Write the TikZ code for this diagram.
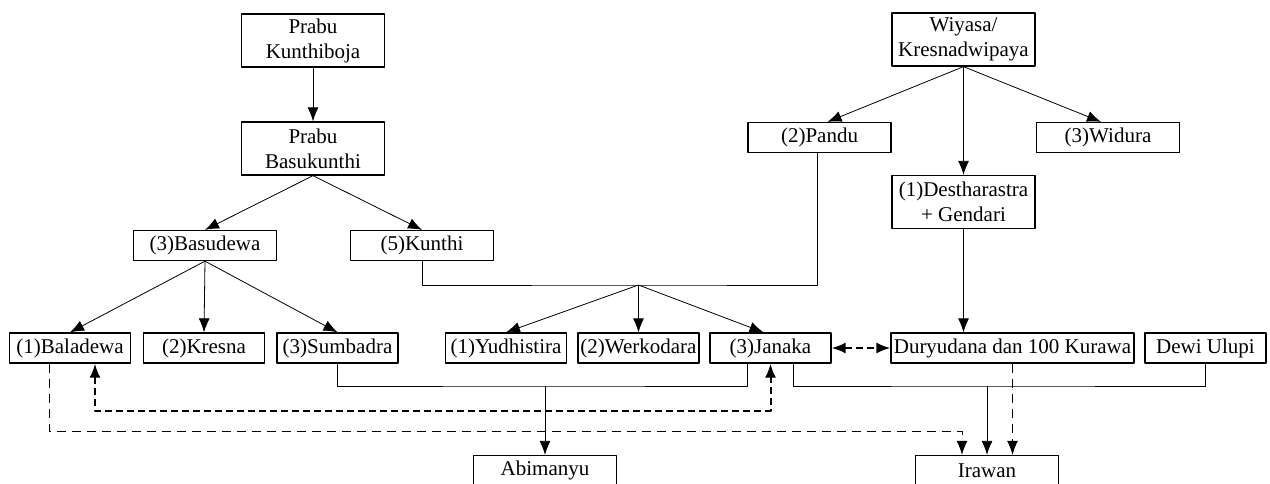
\documentclass[tikz,border=0pt]{standalone}
\usepackage{fontspec}
\setmainfont{Liberation Serif}
\usetikzlibrary{arrows.meta}
\begin{document}
\begin{tikzpicture}[x=0.5pt,y=-0.5pt,>={Latex[length=7pt,width=5.5pt]},line join=round,
	font=\fontsize{10.5}{12.5}\selectfont,
	box/.style={draw,line width=0.65pt,inner sep=1pt,align=center,minimum height=15pt,minimum width=60.5pt},
	wide/.style={box,minimum width=71.5pt},
	tall/.style={wide,minimum height=26.5pt},
	thickdash/.style={line width=1pt,dash pattern=on 3.5pt off 2pt},
	thindash/.style={line width=0.5pt,dash pattern=on 4.5pt off 3pt}]
		%	\draw[color=gray!50,dashed] (0,0) grid (1270,483);
		\useasboundingbox (0,0) rectangle (1270,483);
		\node[tall] (kunthiboja) at (313,40.5) {Prabu\\Kunthiboja};
		\node[tall] (basukunthi) at (313,148.5) {Prabu\\Basukunthi};
		\node[wide] (basudewa) at (205,245.5) {(3)Basudewa};
		\node[wide] (kunthi) at (422,245.5) {(5)Kunthi};
		\node[tall] (wiyasa) at (963.5,39.5) {Wiyasa/\\Kresnadwipaya};
		\node[wide] (pandu) at (819.5,137.5) {(2)Pandu};
		\node[wide] (widura) at (1108,137.5) {(3)Widura};
		\node[tall] (destharastra) at (963.5,202) {(1)Destharastra\\+ Gendari};
		\node[box] (baladewa) at (70,348) {(1)Baladewa};
		\node[box] (kresna) at (204,348) {(2)Kresna};
		\node[box] (sumbadra) at (337.5,348) {(3)Sumbadra};
		\node[box] (yudhistira) at (506,348) {(1)Yudhistira};
		\node[box] (werkodara) at (638.5,348) {(2)Werkodara};
		\node[box] (janaka) at (770.5,348) {(3)Janaka};
		\node[box,minimum width=121.5pt] (duryudana) at (1012.5,348) {Duryudana dan 100 Kurawa};
		\node[box] (ulupi) at (1205.5,348) {Dewi Ulupi};
		\node[wide] (abimanyu) at (545,470.5) {Abimanyu};
		\node[wide] (irawan) at (987,470.5) {Irawan};
		\coordinate (pk) at (638.5,285);
		\coordinate (ab) at (545,386);
		\coordinate (ir) at (987,386);
		\coordinate (bi) at (962,431);
		\draw[->] (kunthiboja)--(basukunthi);
		\draw[->] (basukunthi.south)--(basudewa.north);
		\draw[->] (basukunthi.south)--(kunthi.north);
		\draw[->] (wiyasa.south)--([xshift=4pt]pandu.north);
		\draw[->] (wiyasa.south)--([xshift=-3.5pt]widura.north);
		\draw[->] (wiyasa)--(destharastra);
		\draw[->] (basudewa.south)--(baladewa.north);
		\draw[->] (basudewa.south)--(kresna.north);
		\draw[->] (basudewa.south)--(sumbadra.north);
		\draw (kunthi.south) |- (pk) -| ([xshift=-1pt]pandu.south);
		\draw[->] (pk)--(yudhistira.north);
		\draw[->] (pk)--(werkodara.north);
		\draw[->] (pk)--([xshift=-3.5pt]janaka.north);
		\draw[->] (destharastra.south)--(destharastra.south |- duryudana.north);
		\draw (sumbadra.south) |- (ab) -| ([xshift=-11.5pt]janaka.south);
		\draw[->] (ab)--(abimanyu);
		\draw ([xshift=11.5pt]janaka.south) |- (ir) -| (ulupi.south);
		\draw[->] (ir)--(irawan);
		\draw[thindash,->] (duryudana.south)--(duryudana.south |- irawan.north);
		\draw[thindash,->] ([xshift=-10.5pt]baladewa.south) |- (bi)--(bi |- irawan.north);
		\draw[thickdash,<->] ([xshift=12.5pt]baladewa.south)--++(0,47) -| (janaka.south);
		\draw[thickdash,<->] (janaka)--(duryudana);
		\end{tikzpicture}
\end{document}
